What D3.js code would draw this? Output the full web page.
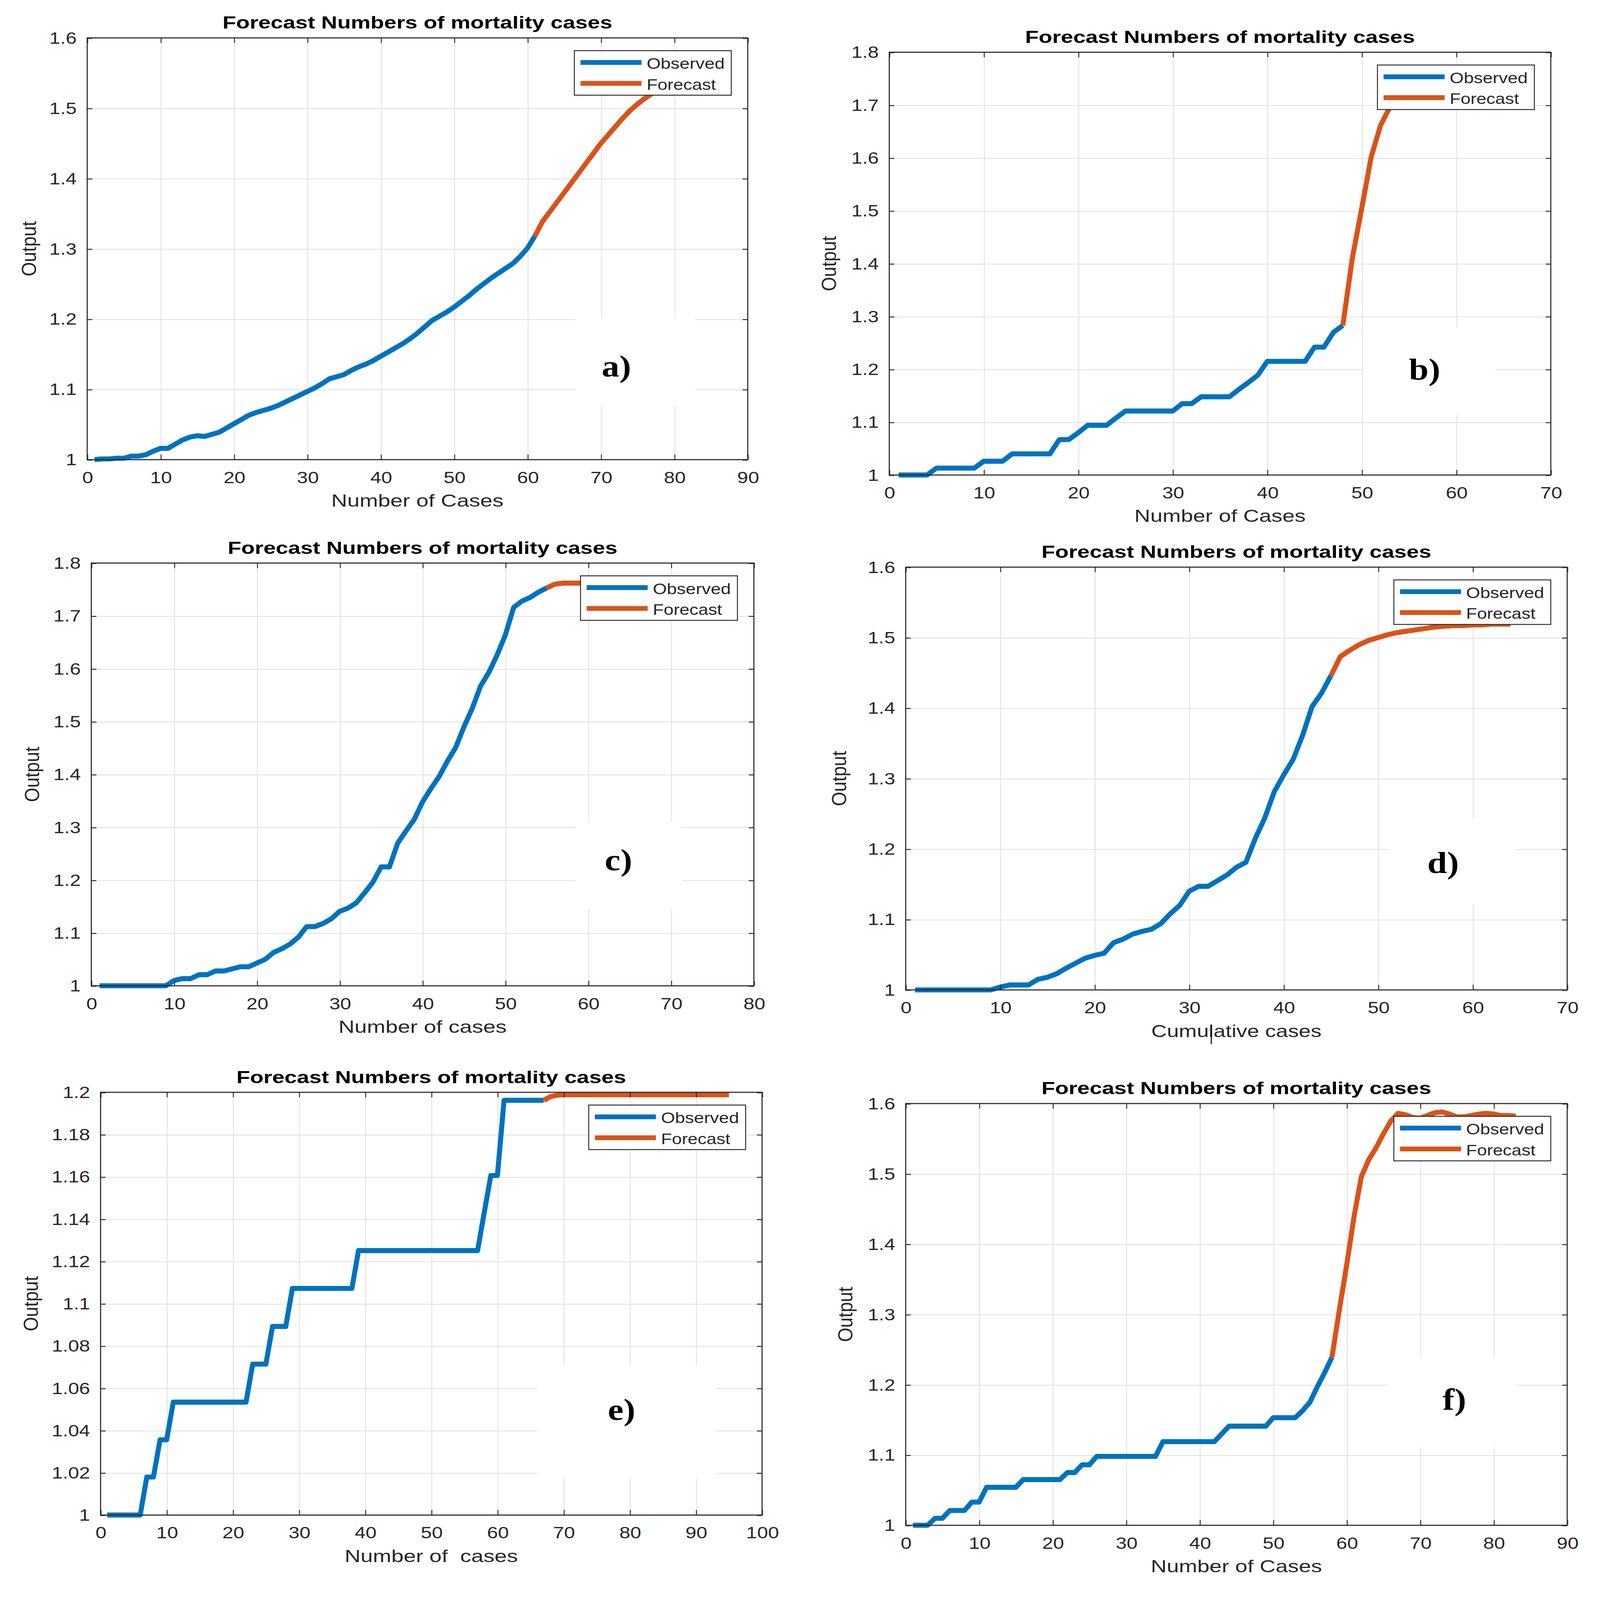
<!DOCTYPE html>
<html>
<head>
<meta charset="utf-8">
<script src="https://cdn.jsdelivr.net/npm/d3@7"></script>
<style>
  html, body { margin: 0; padding: 0; background: #fff; overflow: hidden; }
  #fig svg { display: block; width: 100vw; height: 100vh; }
  text { font-family: "Liberation Sans", Arial, sans-serif; }
  text.tag { font-family: "Liberation Serif", "Times New Roman", serif; font-weight: bold; }
</style>
</head>
<body>
<div id="fig"></div>
<script>
// ---- data: [case number, output] ----
var obsA = [[1,1.000],[2,1.001],[3,1.001],[4,1.002],[5,1.002],[6,1.005],[7,1.005],[8,1.007],[9,1.012],[10,1.016],
  [11,1.016],[12,1.022],[13,1.028],[14,1.032],[15,1.034],[16,1.033],[17,1.036],[18,1.039],[19,1.045],[20,1.051],
  [21,1.057],[22,1.063],[23,1.067],[24,1.070],[25,1.073],[26,1.077],[27,1.082],[28,1.087],[29,1.092],[30,1.097],
  [31,1.102],[32,1.108],[33,1.115],[34,1.118],[35,1.121],[36,1.127],[37,1.132],[38,1.136],[39,1.141],[40,1.147],
  [41,1.153],[42,1.159],[43,1.165],[44,1.172],[45,1.180],[46,1.189],[47,1.198],[48,1.204],[49,1.210],[50,1.217],
  [51,1.225],[52,1.233],[53,1.242],[54,1.250],[55,1.258],[56,1.265],[57,1.272],[58,1.279],[59,1.289],[60,1.301],[61,1.318]];
var fcA = [[61,1.318],[62,1.338],[63,1.352],[64,1.366],[65,1.380],[66,1.394],[67,1.408],[68,1.422],[69,1.436],[70,1.450],
  [71,1.462],[72,1.474],[73,1.486],[74,1.497],[75,1.506],[76,1.514],[77,1.521],[78,1.527],[79,1.533],[80,1.538],
  [81,1.543],[82,1.547],[83,1.550],[84,1.553]];

var obsB = [[1,1],[4,1],[5,1.013],[9,1.013],[10,1.026],[12,1.026],[13,1.04],[17,1.04],[18,1.067],[19,1.067],[20,1.08],
  [21,1.094],[23,1.094],[24,1.108],[25,1.121],[30,1.121],[31,1.135],[32,1.135],[33,1.148],[36,1.148],[37,1.162],
  [38,1.175],[39,1.189],[40,1.215],[44,1.215],[45,1.242],[46,1.242],[47,1.27],[48,1.283]];
var fcB = [[48,1.283],[49,1.41],[50,1.505],[51,1.602],[52,1.662],[53,1.697],[54,1.722],[55,1.740],[56,1.752],
  [57,1.760],[58,1.765],[59,1.768],[60,1.770]];

var obsC = [[1,1],[9,1],[10,1.010],[11,1.0136],[12,1.0136],[13,1.021],[14,1.021],[15,1.028],[16,1.028],[17,1.032],
  [18,1.036],[19,1.036],[20,1.043],[21,1.050],[22,1.063],[23,1.070],[24,1.079],[25,1.092],[26,1.112],[27,1.112],
  [28,1.118],[29,1.127],[30,1.141],[31,1.147],[32,1.157],[33,1.176],[34,1.196],[35,1.225],[36,1.225],[37,1.270],
  [38,1.293],[39,1.315],[40,1.348],[41,1.373],[42,1.396],[43,1.425],[44,1.451],[45,1.490],[46,1.525],[47,1.567],
  [48,1.593],[49,1.626],[50,1.664],[51,1.716],[52,1.728],[53,1.735],[54,1.745],[55,1.753]];
var fcC = [[55,1.753],[56,1.760],[57,1.762],[58,1.762],[60,1.762],[65,1.762],[70,1.762],[75,1.762],[78,1.762]];

var obsD = [[1,1],[9,1],[10,1.004],[11,1.007],[13,1.007],[14,1.015],[15,1.018],[16,1.023],[17,1.031],[18,1.038],
  [19,1.045],[20,1.049],[21,1.052],[22,1.067],[23,1.072],[24,1.079],[25,1.083],[26,1.086],[27,1.094],[28,1.108],
  [29,1.120],[30,1.140],[31,1.147],[32,1.147],[33,1.155],[34,1.163],[35,1.174],[36,1.181],[37,1.215],[38,1.244],
  [39,1.281],[40,1.305],[41,1.327],[42,1.361],[43,1.402],[44,1.421],[45,1.446]];
var fcD = [[45,1.446],[46,1.473],[47,1.482],[48,1.490],[49,1.496],[50,1.500],[51,1.504],[52,1.507],[53,1.509],
  [54,1.511],[55,1.513],[56,1.515],[57,1.516],[58,1.517],[59,1.517],[60,1.518],[61,1.518],[62,1.519],[63,1.519],[64,1.519]];

var obsE = [[1,1],[6,1],[7,1.018],[8,1.018],[9,1.0356],[10,1.0356],[11,1.0534],[22,1.0534],[23,1.0714],[25,1.0714],
  [26,1.0892],[28,1.0892],[29,1.1072],[38,1.1072],[39,1.1251],[57,1.1251],[58,1.143],[59,1.1606],[60,1.1606],
  [61,1.1962],[67,1.1962]];
var fcE = [[67,1.1962],[68,1.1979],[69,1.1986],[70,1.1988],[75,1.1988],[80,1.1988],[85,1.1988],[90,1.1988],[95,1.1988]];

var obsF = [[1,1],[3,1],[4,1.0099],[5,1.0099],[6,1.021],[8,1.021],[9,1.033],[10,1.033],[11,1.054],[15,1.054],
  [16,1.065],[21,1.065],[22,1.075],[23,1.075],[24,1.086],[25,1.086],[26,1.098],[34,1.098],[35,1.119],[42,1.119],
  [43,1.13],[44,1.141],[49,1.141],[50,1.153],[53,1.153],[54,1.163],[55,1.175],[56,1.197],[57,1.217],[58,1.239]];
var fcF = [[58,1.239],[59,1.306],[60,1.370],[61,1.439],[62,1.496],[63,1.520],[64,1.537],[65,1.557],[66,1.575],
  [67,1.586],[68,1.584],[69,1.580],[70,1.579],[71,1.583],[72,1.587],[73,1.588],[74,1.585],[75,1.581],[76,1.581],
  [77,1.583],[78,1.585],[79,1.586],[80,1.585],[81,1.583],[82,1.583],[83,1.582]];

// ticks
var xTicks90 = [0,10,20,30,40,50,60,70,80,90];
var xTicks70 = [0,10,20,30,40,50,60,70];
var xTicks80 = [0,10,20,30,40,50,60,70,80];
var xTicks100 = [0,10,20,30,40,50,60,70,80,90,100];
var yTicks16 = [1,1.1,1.2,1.3,1.4,1.5,1.6];
var yTicks18 = [1,1.1,1.2,1.3,1.4,1.5,1.6,1.7,1.8];
var yTicks12 = [1,1.02,1.04,1.06,1.08,1.1,1.12,1.14,1.16,1.18,1.2];

var titleText = "Forecast Numbers of mortality cases";
var legendNames = ["Observed", "Forecast"];
var colors = ["#0072BD", "#D95319"];

// ---- layout (figure drawn in 1560 x 1563 units, scaled to the page) ----
var panels = [
  {obs: obsA, fc: fcA, xt: xTicks90, yt: yTicks16, xl: "Number of Cases", xlw: 168, tag: "a)",
   x0: 85, x1: 729, y0: 37, y1: 449, ylx: 28, tagAt: [601, 368], patch: [561, 311, 678, 396]},
  {obs: obsB, fc: fcB, xt: xTicks70, yt: yTicks18, xl: "Number of Cases", xlw: 167, tag: "b)",
   x0: 867, x1: 1512, y0: 51, y1: 464, ylx: 808, tagAt: [1389, 371], patch: [1330, 320, 1458, 405]},
  {obs: obsC, fc: fcC, xt: xTicks80, yt: yTicks18, xl: "Number of cases", xlw: 164, tag: "c)",
   x0: 89, x1: 735, y0: 550, y1: 963, ylx: 31, tagAt: [603, 850], patch: [561, 803, 665, 888]},
  {obs: obsD, fc: fcD, xt: xTicks70, yt: yTicks16, xl: "Cumulative cases", xlw: 166, tag: "d)",
   x0: 883, x1: 1528, y0: 554, y1: 967, ylx: 818, tagAt: [1407, 853], patch: [1355, 800, 1478, 883],
   cursor: [1181, 1001, 1020]},
  {obs: obsE, fc: fcE, xt: xTicks100, yt: yTicks12, xl: "Number of  cases", xlw: 169, tag: "e)",
   x0: 98, x1: 743, y0: 1067, y1: 1480, ylx: 30, tagAt: [606, 1387], patch: [524, 1334, 697, 1444]},
  {obs: obsF, fc: fcF, xt: xTicks90, yt: yTicks16, xl: "Number of Cases", xlw: 167, tag: "f)",
   x0: 883, x1: 1528, y0: 1078, y1: 1490, ylx: 824, tagAt: [1418, 1377], patch: [1352, 1326, 1480, 1414]}
];

var SX = 1.2;          // the figure's text is stretched sideways
var ink = "#262626";

var svg = d3.select("#fig").append("svg")
  .attr("viewBox", "0 0 1560 1563")
  .attr("preserveAspectRatio", "none");
svg.append("rect").attr("width", 1560).attr("height", 1563).attr("fill", "#fff");

var fmt = function(d) { return String(+d.toFixed(2)); };

panels.forEach(function(p) {
  var w = p.x1 - p.x0, h = p.y1 - p.y0;
  var x = d3.scaleLinear().domain(d3.extent(p.xt)).range([0, w]);
  var y = d3.scaleLinear().domain(d3.extent(p.yt)).range([h, 0]);

  var g = svg.append("g").attr("transform", `translate(${p.x0},${p.y0})`);

  // grid
  g.append("g").attr("class", "grid")
    .attr("transform", `translate(0,${h})`)
    .call(d3.axisBottom(x).tickValues(p.xt).tickSize(-h).tickFormat(""));
  g.append("g").attr("class", "grid")
    .call(d3.axisLeft(y).tickValues(p.yt).tickSize(-w).tickFormat(""));
  g.selectAll(".grid .domain").remove();
  g.selectAll(".grid line").attr("stroke", "#dcdcdc").attr("stroke-width", 0.7);

  // white patch under the panel letter
  svg.append("rect")
    .attr("x", p.patch[0]).attr("y", p.patch[1])
    .attr("width", p.patch[2] - p.patch[0]).attr("height", p.patch[3] - p.patch[1])
    .attr("fill", "#fff");

  // series
  var line = d3.line().x(d => x(d[0])).y(d => y(d[1]));
  [p.obs, p.fc].forEach(function(s, i) {
    g.append("path").datum(s)
      .attr("d", line)
      .attr("fill", "none")
      .attr("stroke", colors[i])
      .attr("stroke-width", 4.9)
      .attr("stroke-linejoin", "round")
      .attr("stroke-linecap", "butt");
  });

  // axes with inward ticks on all sides
  var bottom = g.append("g").attr("transform", `translate(0,${h})`)
    .call(d3.axisBottom(x).tickValues(p.xt).tickSizeInner(-5).tickSizeOuter(0).tickPadding(11.5).tickFormat(fmt));
  var left = g.append("g")
    .call(d3.axisLeft(y).tickValues(p.yt).tickSizeInner(-5).tickSizeOuter(0).tickPadding(8.5).tickFormat(fmt));
  g.append("g")
    .call(d3.axisTop(x).tickValues(p.xt).tickSizeInner(-5).tickSizeOuter(0).tickFormat(""));
  g.append("g").attr("transform", `translate(${w},0)`)
    .call(d3.axisRight(y).tickValues(p.yt).tickSizeInner(-5).tickSizeOuter(0).tickFormat(""));
  g.selectAll(".domain").remove();
  g.selectAll(".tick line").filter(function() { return !this.parentNode.parentNode.classList.contains("grid"); })
    .attr("stroke", ink).attr("stroke-width", 0.9);
  [bottom, left].forEach(function(a) {
    a.selectAll("text")
      .attr("transform", `scale(${SX},1)`)
      .attr("font-size", 16)
      .attr("fill", ink);
  });
  g.append("rect").attr("width", w).attr("height", h)
    .attr("fill", "none").attr("stroke", ink).attr("stroke-width", 1);

  // legend
  var lg = g.append("g").attr("transform", `translate(${w - 169},12.5)`);
  lg.append("rect").attr("width", 153).attr("height", 43.5)
    .attr("fill", "#fff").attr("stroke", ink).attr("stroke-width", 0.9);
  legendNames.forEach(function(name, i) {
    var ry = 11.5 + i * 20.4;
    lg.append("line").attr("x1", 6).attr("x2", 65.5).attr("y1", ry).attr("y2", ry)
      .attr("stroke", colors[i]).attr("stroke-width", 4.7);
    lg.append("text").attr("x", 70.5).attr("y", ry + 1).attr("dy", "0.36em")
      .attr("font-size", 14.5).attr("fill", ink)
      .attr("textLength", i === 0 ? 76 : 67.5).attr("lengthAdjust", "spacingAndGlyphs")
      .text(name);
  });

  // title and axis labels
  svg.append("text")
    .attr("x", (p.x0 + p.x1) / 2).attr("y", p.y0 - 9)
    .attr("text-anchor", "middle").attr("font-size", 17).attr("font-weight", "bold")
    .attr("textLength", 380).attr("lengthAdjust", "spacingAndGlyphs")
    .attr("fill", "#000")
    .text(titleText);
  svg.append("text")
    .attr("x", (p.x0 + p.x1) / 2).attr("y", p.y1 + 46)
    .attr("text-anchor", "middle").attr("font-size", 17).attr("fill", ink)
    .attr("textLength", p.xlw).attr("lengthAdjust", "spacingAndGlyphs")
    .style("white-space", "pre")
    .text(p.xl);
  svg.append("text")
    .attr("transform", `translate(${p.ylx},${(p.y0 + p.y1) / 2}) scale(${SX},1) rotate(-90)`)
    .attr("text-anchor", "middle").attr("dy", "0.36em")
    .attr("font-size", 16.5).attr("fill", ink)
    .attr("textLength", 54).attr("lengthAdjust", "spacingAndGlyphs")
    .text("Output");

  // panel letter
  svg.append("text")
    .attr("class", "tag")
    .attr("transform", `translate(${p.tagAt[0]},${p.tagAt[1]}) scale(1.15,1)`)
    .attr("text-anchor", "middle")
    .attr("font-size", 30).attr("fill", "#000")
    .text(p.tag);

  if (p.cursor) {
    svg.append("line")
      .attr("x1", p.cursor[0]).attr("x2", p.cursor[0])
      .attr("y1", p.cursor[1]).attr("y2", p.cursor[2])
      .attr("stroke", "#000").attr("stroke-width", 1);
  }
});
</script>
</body>
</html>
